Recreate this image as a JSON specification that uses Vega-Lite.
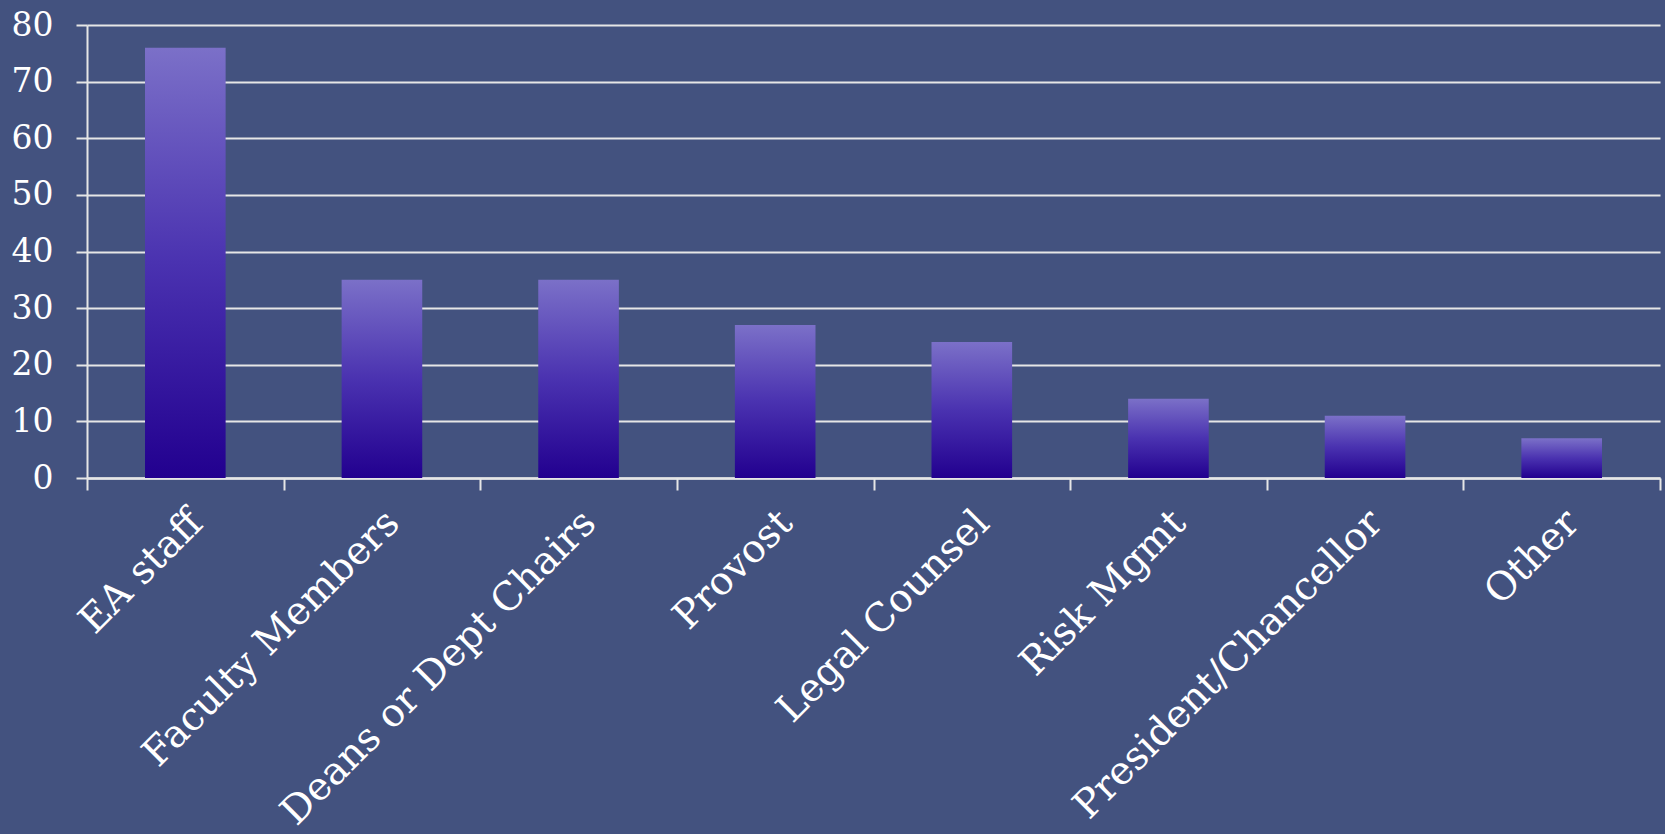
{
  "$schema": "https://vega.github.io/schema/vega-lite/v6.json",
  "width": 1573,
  "height": 453,
  "autosize": {"type": "none"},
  "padding": {"left": 87, "top": 25, "right": 5, "bottom": 356},
  "background": "#43527F",
  "config": {
    "view": {"stroke": null},
    "axis": {"labelFont": "DejaVu Serif", "labelColor": "#FFFFFF"}
  },
  "data": {
    "values": [
      {"role": "EA staff", "count": 76},
      {"role": "Faculty Members", "count": 35},
      {"role": "Deans or Dept Chairs", "count": 35},
      {"role": "Provost", "count": 27},
      {"role": "Legal Counsel", "count": 24},
      {"role": "Risk Mgmt", "count": 14},
      {"role": "President/Chancellor", "count": 11},
      {"role": "Other", "count": 7}
    ]
  },
  "mark": {
    "type": "bar",
    "width": {"band": 0.41},
    "color": {
      "gradient": "linear",
      "x1": 0, "y1": 1, "x2": 0, "y2": 0,
      "stops": [
        {"offset": 0, "color": "#22008F"},
        {"offset": 0.5, "color": "#4A32B0"},
        {"offset": 1, "color": "#7B70C8"}
      ]
    }
  },
  "encoding": {
    "x": {
      "field": "role",
      "type": "nominal",
      "sort": null,
      "title": null,
      "scale": {"paddingInner": 0, "paddingOuter": 0},
      "axis": {
        "tickBand": "extent",
        "labelAngle": -45,
        "labelFontSize": 39,
        "labelPadding": 13,
        "labelOffset": -3,
        "tickSize": 12,
        "tickWidth": 2,
        "tickColor": "#E6E6E6",
        "domainColor": "#E6E6E6",
        "domainWidth": 2.5,
        "labelLimit": 600
      }
    },
    "y": {
      "field": "count",
      "type": "quantitative",
      "title": null,
      "scale": {"domain": [0, 80]},
      "axis": {
        "values": [0, 10, 20, 30, 40, 50, 60, 70, 80],
        "labelFontSize": 33,
        "labelPadding": 23,
        "tickSize": 11,
        "tickWidth": 2,
        "tickColor": "#E6E6E6",
        "domainColor": "#E6E6E6",
        "domainWidth": 2,
        "gridColor": "#E6E6E6",
        "gridWidth": 2,
        "gridOpacity": 1
      }
    }
  }
}
